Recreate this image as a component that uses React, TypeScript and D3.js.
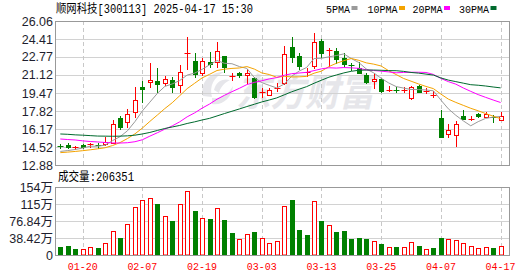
import React from 'react';
import * as d3 from 'd3';

const dates = [
  '01-15','01-16','01-17','01-20','01-21','01-22','01-23','01-24','01-27','02-05',
  '02-06','02-07','02-10','02-11','02-12','02-13','02-14','02-17','02-18','02-19',
  '02-20','02-21','02-24','02-25','02-26','02-27','02-28','03-03','03-04','03-05',
  '03-06','03-07','03-10','03-11','03-12','03-13','03-14','03-17','03-18','03-19',
  '03-20','03-21','03-24','03-25','03-26','03-27','03-28','03-31','04-01','04-02',
  '04-03','04-07','04-08','04-09','04-10','04-11','04-14','04-15','04-16','04-17',
];
const axisDates = ['01-20','02-07','02-19','03-03','03-13','03-25','04-07','04-17'];

const opens = [
  14.65,14.68,14.44,14.68,14.78,14.68,14.83,14.92,17.15,16.84,
  17.70,19.99,20.45,20.57,20.36,20.66,20.17,23.06,22.40,21.27,
  22.33,22.33,22.86,20.92,21.27,21.12,20.82,19.49,19.26,19.85,
  20.36,23.65,22.86,21.28,21.94,24.26,23.30,23.34,22.65,22.01,
  21.79,21.12,20.61,20.72,19.70,19.77,19.64,19.04,20.14,19.54,
  19.24,17.15,15.69,15.63,17.34,17.00,17.55,17.30,17.25,17.00,
];
const highs = [
  14.78,14.92,14.62,14.78,14.92,14.87,15.42,17.00,17.37,17.98,
  19.99,20.57,22.19,21.73,21.00,20.91,22.03,24.62,23.10,22.65,
  23.20,24.11,22.90,21.27,21.42,21.67,20.96,19.96,19.90,20.36,
  23.77,24.62,23.10,21.73,24.95,24.39,23.56,23.56,23.10,22.24,
  22.33,21.27,21.27,20.82,20.11,20.05,20.05,20.14,20.20,19.90,
  19.65,17.91,16.61,16.93,17.91,17.37,17.64,17.73,17.46,17.76,
];
const lows = [
  14.46,14.41,14.32,14.46,14.55,14.46,14.71,14.87,16.15,16.39,
  17.30,18.67,20.05,19.56,20.20,19.59,19.59,21.64,20.96,21.12,
  21.88,21.88,21.42,20.66,20.91,20.41,18.99,19.08,19.26,19.65,
  20.29,22.33,21.64,21.03,21.73,22.79,21.95,22.24,21.97,21.58,
  21.27,20.36,19.90,19.59,19.68,19.53,19.59,18.89,19.53,19.44,
  19.13,15.47,15.47,14.62,17.06,17.00,17.30,17.25,16.84,17.00,
];
const closes = [
  14.59,14.53,14.50,14.53,14.83,14.62,14.96,16.61,16.33,17.52,
  18.83,19.84,20.63,20.32,20.72,19.99,21.39,23.15,21.18,22.43,
  22.10,23.34,21.88,21.01,21.12,21.27,19.13,19.58,19.74,19.95,
  23.01,22.74,21.94,21.37,24.11,23.10,23.39,22.55,22.10,21.94,
  21.33,20.45,20.71,19.65,19.79,19.72,19.73,20.05,19.59,19.64,
  19.33,15.47,16.08,16.61,17.09,17.12,17.37,17.55,17.18,17.37,
];
const prevCloseBeforeFirst = 14.70;
// volume in 万 (10k) shares
const volumes = [
  18.8,20.9,14.0,13.2,17.8,16.3,26.4,54.2,38.6,70.1,
  107.8,125.0,129.5,116.0,88.1,77.0,115.3,144.0,99.7,82.9,
  81.4,105.5,79.5,50.0,35.8,46.8,52.0,37.7,26.4,31.6,
  110.7,124.3,56.8,45.2,122.0,76.8,67.5,51.6,54.2,36.5,
  38.4,36.5,31.6,24.9,17.8,18.1,17.8,28.7,20.3,13.3,
  16.2,38.0,36.2,33.9,26.8,19.5,15.8,17.8,15.8,20.6,
];
const lastVolumeShou = 206351;

const ma5 = [
  14.12,14.20,14.30,14.43,14.60,14.60,14.69,15.11,15.47,16.01,
  16.85,17.83,18.63,19.43,20.07,20.30,20.61,21.11,21.29,21.63,
  22.05,22.44,22.19,22.15,21.89,21.72,20.88,20.42,20.17,19.93,
  20.28,21.00,21.48,21.80,22.63,22.65,22.78,22.90,23.05,22.62,
  22.26,21.67,21.31,20.82,20.39,20.06,19.92,19.79,19.78,19.75,
  19.67,18.82,18.02,17.43,16.92,16.47,16.85,17.15,17.26,17.32,
];
const ma10 = [
  14.01,14.06,14.12,14.19,14.27,14.36,14.46,14.66,14.93,15.30,
  15.73,16.26,16.87,17.45,18.04,18.58,19.22,19.87,20.36,20.85,
  21.18,21.53,21.65,21.72,21.76,21.89,21.66,21.31,21.16,20.91,
  21.00,20.94,20.95,20.99,21.28,21.47,21.89,22.19,22.43,22.63,
  22.46,22.23,22.11,21.94,21.51,21.16,20.80,20.55,20.30,20.07,
  19.87,19.37,18.91,18.61,18.34,18.07,17.84,17.59,17.35,17.12,
];
const ma20 = [
  15.26,15.21,15.17,15.09,15.03,14.99,14.94,14.90,14.89,14.92,
  15.01,15.19,15.52,15.83,16.16,16.46,16.83,17.29,17.65,18.08,
  18.46,18.90,19.26,19.59,19.90,20.24,20.44,20.59,20.76,20.88,
  21.09,21.24,21.30,21.36,21.52,21.68,21.78,21.75,21.80,21.77,
  21.73,21.59,21.53,21.47,21.40,21.32,21.35,21.37,21.37,21.35,
  21.17,20.80,20.51,20.28,19.93,19.62,19.32,19.07,18.83,18.60,
];
const ma30 = [
  15.72,15.69,15.64,15.61,15.57,15.53,15.52,15.51,15.52,15.55,
  15.61,15.72,15.86,16.04,16.22,16.36,16.50,16.68,16.83,17.00,
  17.15,17.37,17.59,17.80,18.01,18.23,18.44,18.65,18.83,19.02,
  19.30,19.58,19.82,20.05,20.36,20.64,20.92,21.12,21.31,21.46,
  21.55,21.57,21.57,21.55,21.52,21.51,21.45,21.35,21.29,21.20,
  21.11,20.85,20.65,20.51,20.37,20.23,20.18,20.11,20.02,19.94,
];

const priceTicks = [12.88, 14.52, 16.17, 17.82, 19.47, 21.12, 22.77, 24.41, 26.06];
const priceTickLabels = ['12.88','14.52','16.17','17.82','19.47','21.12','22.77','24.41','26.06'];
const volTicks = [0, 38.42, 76.84, 115.26, 153.68];
const volTickLabels = ['0', '38.42万', '76.84万', '115万', '154万'];

const legendNames = ['5PMA', '10PMA', '20PMA', '30PMA'];
const title = '顺网科技[300113] 2025-04-17 15:30';

const W = 530, H = 276;
const L = 55, R = 509;
const pTop = 21, pBot = 165;
const vTop = 187, vBot = 255;

const RED = '#ff0000';
const GREEN = '#008000';
const MA_COLORS = ['#9a9a9a', '#f4a300', '#ff00ff', '#006a2e'];
const MONO = "'Liberation Mono', 'Noto Sans CJK SC', monospace";
const SANS = "'Liberation Sans', Arial, 'Noto Sans CJK SC', sans-serif";

export default function App() {
  const x = d3.scalePoint<string>().domain(dates).range([60.3, 500.6]);
  const y = d3.scaleLinear().domain([12.88, 26.06]).range([pBot, pTop]);
  const yv = d3.scaleLinear().domain([0, 153.68]).range([vBot, vTop]);
  const cx = (i: number) => Math.round(x(dates[i]) as number) + 0.5;

  const mas = [ma5, ma10, ma20, ma30];
  const line = d3.line<number>().x((_, i) => x(dates[i]) as number).y((d) => y(d));

  return (
    <svg width={W} height={H} style={{ position: 'absolute', left: 0, top: 0, background: '#fff' }}>
      <rect x={0} y={0} width={W} height={H} fill="#fff" />

      {/* watermark */}
      <g fill="#e6e6ea">
        <path d="M203,96 C200,82 210,72 224,72 C214,77 209,86 212,97 Z" />
        <path d="M212,104 C222,106 232,98 233,86 C228,95 220,99 212,98 Z" />
        <path d="M214,90 C216,82 222,78 230,80 C224,83 220,88 219,93 Z" />
      </g>
      <text x={236} y={106} fontFamily="'Noto Sans CJK SC', sans-serif" fontWeight="bold" fontSize={38}
        fill="#e6e6ea" textLength={138} lengthAdjust="spacingAndGlyphs" fontStyle="italic">东方财富</text>

      {/* horizontal grid, price */}
      {priceTicks.map((t, k) => (
        <line key={'pg' + k} x1={L} x2={R} y1={Math.round(y(t)) + 0.5} y2={Math.round(y(t)) + 0.5}
          stroke="#d2d2d2" strokeWidth={1} />
      ))}
      {volTicks.map((t, k) => (
        <line key={'vg' + k} x1={L} x2={R} y1={Math.round(yv(t)) + 0.5} y2={Math.round(yv(t)) + 0.5}
          stroke="#d2d2d2" strokeWidth={1} />
      ))}
      {/* vertical dashed grid */}
      {axisDates.map((d) => {
        const xx = Math.round(x(d) as number) + 0.5;
        return (
          <g key={'vd' + d}>
            <line x1={xx} x2={xx} y1={pTop} y2={pBot} stroke="#c8c8c8" strokeDasharray="4,3" />
            <line x1={xx} x2={xx} y1={vTop} y2={vBot} stroke="#c8c8c8" strokeDasharray="4,3" />
          </g>
        );
      })}

      {/* frames */}
      <rect x={L + 0.5} y={pTop + 0.5} width={R - L} height={pBot - pTop} fill="none" stroke="#999" />
      <rect x={L + 0.5} y={vTop + 0.5} width={R - L} height={vBot - vTop} fill="none" stroke="#999" />

      {/* candles */}
      {dates.map((d, i) => {
        const c = cx(i);
        const up = closes[i] >= opens[i];
        const col = up ? RED : GREEN;
        const yo = Math.round(y(opens[i]));
        const yc = Math.round(y(closes[i]));
        const yh = Math.round(y(highs[i]));
        const yl = Math.round(y(lows[i]));
        const top = Math.min(yo, yc);
        const bot = Math.max(yo, yc);
        return (
          <g key={'c' + i}>
            <line x1={c} x2={c} y1={yh} y2={yl + 1} stroke={col} />
            {bot - top <= 1 ? (
              <line x1={c - 3} x2={c + 3} y1={top + 0.5} y2={top + 0.5} stroke={col} />
            ) : up ? (
              <rect x={c - 2} y={top + 0.5} width={4} height={bot - top} fill="#fff" stroke={col} />
            ) : (
              <rect x={c - 2.5} y={top} width={5} height={bot - top + 1} fill={col} />
            )}
          </g>
        );
      })}

      {/* moving averages */}
      {mas.map((m, k) => (
        <path key={'ma' + k} d={line(m) || ''} fill="none" stroke={MA_COLORS[k]} strokeWidth={1} />
      ))}

      {/* volume bars */}
      {volumes.map((v, i) => {
        const c = cx(i);
        const prev = i === 0 ? prevCloseBeforeFirst : closes[i - 1];
        const up = closes[i] >= prev;
        const yt = Math.round(yv(v));
        return up ? (
          <rect key={'v' + i} x={c - 2} y={yt + 0.5} width={4} height={vBot - yt - 0.5} fill="#fff" stroke={RED} />
        ) : (
          <rect key={'v' + i} x={c - 2.5} y={yt} width={5} height={vBot - yt} fill={GREEN} />
        );
      })}
      <line x1={L} x2={R + 1} y1={vBot + 0.5} y2={vBot + 0.5} stroke="#999" />

      {/* price axis labels */}
      {priceTicks.map((t, k) => (
        <text key={'pl' + k} x={53} y={y(t)} dy="0.36em" textAnchor="end" fontFamily={SANS} fontSize={12.5}
          fill="#1e1e2e">{priceTickLabels[k]}</text>
      ))}
      {volTicks.map((t, k) => (
        <text key={'vl' + k} x={53} y={yv(t)} dy="0.36em" textAnchor="end" fontFamily={SANS} fontSize={12.5}
          fill="#1e1e2e">{volTickLabels[k]}</text>
      ))}

      {/* date labels */}
      {axisDates.map((d) => (
        <text key={'dl' + d} x={x(d) as number} y={270} textAnchor="middle" fontFamily={MONO} fontSize={11}
          fill={RED} textLength={30} lengthAdjust="spacingAndGlyphs">{d}</text>
      ))}

      {/* title */}
      <text x={56} y={13} fontFamily={MONO} fontSize={12} fill="#000" textLength={197}
        lengthAdjust="spacingAndGlyphs">{title}</text>

      {/* legend */}
      {legendNames.map((n, k) => {
        const starts = [326, 367.5, 412.5, 459];
        const w = n.length * 6;
        return (
          <g key={'lg' + n}>
            <text x={starts[k]} y={13} fontFamily={MONO} fontSize={11.5} fill="#000" textLength={w}
              lengthAdjust="spacingAndGlyphs">{n}</text>
            <rect x={starts[k] + w + 1.5} y={6} width={6} height={4} fill={MA_COLORS[k]} />
          </g>
        );
      })}

      {/* volume title */}
      <text x={58} y={181} fontFamily={MONO} fontSize={12.5} fill="#000" textLength={76}
        lengthAdjust="spacingAndGlyphs">{'成交量:' + lastVolumeShou}</text>
    </svg>
  );
}
